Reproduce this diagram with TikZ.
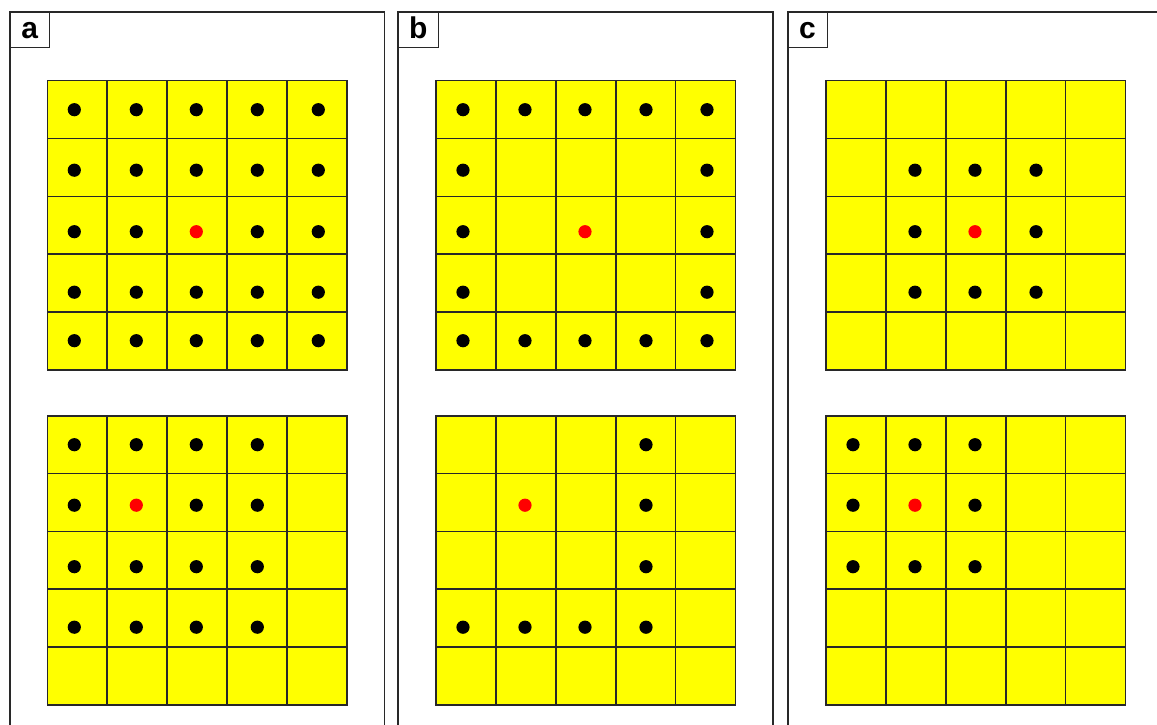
\documentclass[tikz,border=0pt]{standalone}
\usepackage{fontspec}
\setmainfont{Liberation Sans}
\definecolor{gridyellow}{RGB}{255,255,0}
\definecolor{dotred}{RGB}{255,0,0}
\definecolor{edge}{RGB}{40,40,40}
\def\cxarr{{27,89,149,210,271}}
\def\cyarr{{29,89.5,151,211.5,260}}
\newcommand\gridbox[2]{%
  \fill[gridyellow] (#1,#2) rectangle ++(299.5,289);
  \foreach \i in {0,...,5}{%
    \draw[gridline] (#1+\i*59.9,#2) -- ++(0,289);
    \draw[gridline] (#1,#2+\i*57.8) -- ++(299.5,0);}%
}
\newcommand\gdot[5]{%
  \pgfmathsetmacro\dx{#1+\cxarr[#3]}%
  \pgfmathsetmacro\dy{#2+\cyarr[#4]}%
  \fill[#5] (\dx,\dy) circle[radius=6.6];%
}
\tikzset{
  gridline/.style={draw=edge,line width=1.6pt,line cap=rect},
  panelframe/.style={draw=edge,line width=1.9pt},
  labelbox/.style={draw=edge,line width=1.6pt,fill=white},
  labeltext/.style={font=\bfseries\fontsize{30}{30}\selectfont,anchor=base,inner sep=0pt}
}
\begin{document}
\begin{tikzpicture}[x=1pt,y=-1pt]
\clip (0,0) rectangle (1157,725);
\fill[white] (0,0) rectangle (1157,725);
% panels
\draw[panelframe] (10,12.3) rectangle (384.5,745);
\draw[panelframe] (398.3,12.3) rectangle (773.3,745);
\draw[panelframe] (787.7,12.3) rectangle (1175,745);
% labels
\draw[labelbox] (10,12.3) rectangle (49.3,47.7);
\node[labeltext] (la) at (29.7,38.3) {a};
\draw[labelbox] (398.3,12.3) rectangle (438.3,47.7);
\node[labeltext] (lb) at (418.3,38.3) {b};
\draw[labelbox] (787.7,12.3) rectangle (827.3,47.7);
\node[labeltext] (lc) at (807.5,38.3) {c};
% grids
\gridbox{47.3}{80.7}
\gridbox{47.3}{415.7}
\gridbox{436}{80.7}
\gridbox{436}{415.7}
\gridbox{826}{80.7}
\gridbox{826}{415.7}
% panel a top
\foreach \c in {0,...,4}{\foreach \r in {0,...,4}{%
  \ifnum\c=2 \ifnum\r=2 \gdot{47.3}{80.7}{\c}{\r}{dotred}\else\gdot{47.3}{80.7}{\c}{\r}{black}\fi
  \else \gdot{47.3}{80.7}{\c}{\r}{black}\fi}}
% panel a bottom
\foreach \c in {0,...,3}{\foreach \r in {0,...,3}{%
  \ifnum\c=1 \ifnum\r=1 \gdot{47.3}{415.7}{\c}{\r}{dotred}\else\gdot{47.3}{415.7}{\c}{\r}{black}\fi
  \else \gdot{47.3}{415.7}{\c}{\r}{black}\fi}}
% panel b top
\foreach \c/\r in {0/0,1/0,2/0,3/0,4/0,0/1,4/1,0/2,4/2,0/3,4/3,0/4,1/4,2/4,3/4,4/4}{\gdot{436}{80.7}{\c}{\r}{black}}
\gdot{436}{80.7}{2}{2}{dotred}
% panel b bottom
\foreach \c/\r in {3/0,3/1,3/2,0/3,1/3,2/3,3/3}{\gdot{436}{415.7}{\c}{\r}{black}}
\gdot{436}{415.7}{1}{1}{dotred}
% panel c top
\foreach \c/\r in {1/1,2/1,3/1,1/2,3/2,1/3,2/3,3/3}{\gdot{826}{80.7}{\c}{\r}{black}}
\gdot{826}{80.7}{2}{2}{dotred}
% panel c bottom
\foreach \c/\r in {0/0,1/0,2/0,0/1,2/1,0/2,1/2,2/2}{\gdot{826}{415.7}{\c}{\r}{black}}
\gdot{826}{415.7}{1}{1}{dotred}
\end{tikzpicture}
\end{document}
